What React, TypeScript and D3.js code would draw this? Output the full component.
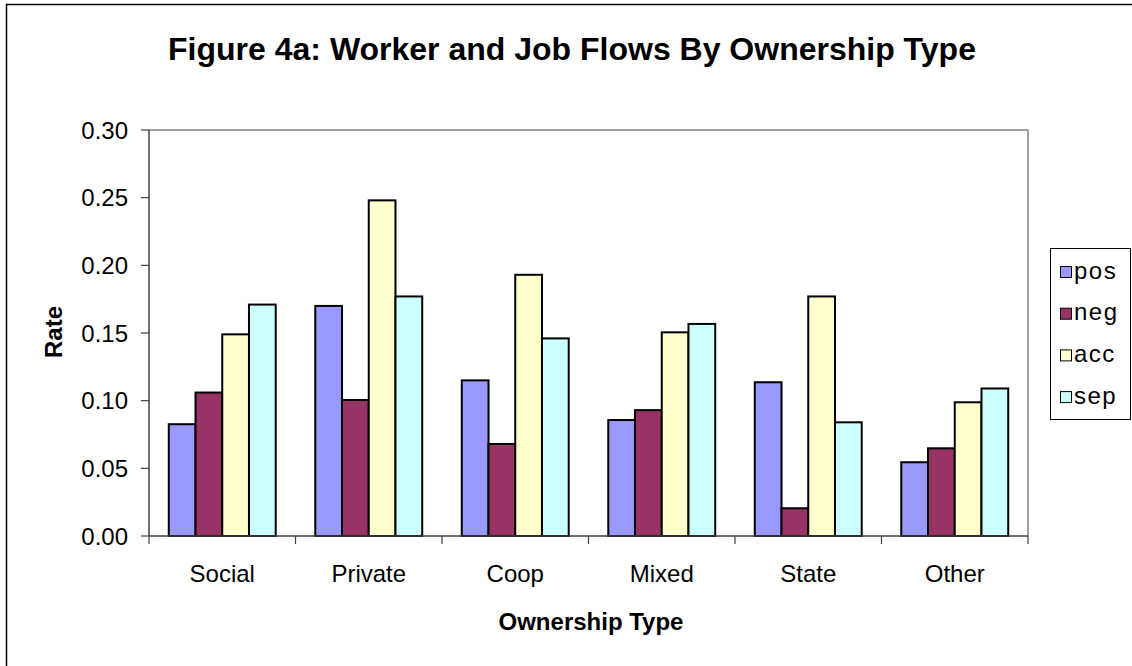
import React from "react";
import * as d3 from "d3";

const categories = ["Social", "Private", "Coop", "Mixed", "State", "Other"];
const seriesNames = ["pos", "neg", "acc", "sep"];
const posValues = [0.0826, 0.170, 0.115, 0.0857, 0.1136, 0.0545];
const negValues = [0.106, 0.1005, 0.068, 0.093, 0.0205, 0.0648];
const accValues = [0.149, 0.248, 0.193, 0.1505, 0.177, 0.0988];
const sepValues = [0.171, 0.177, 0.146, 0.1567, 0.084, 0.109];
const yTicks = [0, 0.05, 0.1, 0.15, 0.2, 0.25, 0.3];
const colors = ["#9999FF", "#993366", "#FFFFCC", "#CCFFFF"];

const W = 1132;
const H = 666;
const plot = { left: 149, right: 1028, top: 130, bottom: 536 };
const FONT = "'Liberation Sans', Arial, sans-serif";

export default function App() {
  const series = [posValues, negValues, accValues, sepValues];
  const x0 = d3.scaleBand().domain(categories).range([plot.left, plot.right]).paddingInner(0).paddingOuter(0);
  const innerPad = 0.27;
  const x1 = d3
    .scaleBand()
    .domain(seriesNames)
    .range([x0.bandwidth() * (innerPad / 2), x0.bandwidth() * (1 - innerPad / 2)]);
  const y = d3.scaleLinear().domain([0, 0.3]).range([plot.bottom, plot.top]);
  const fmt = d3.format(".2f");

  return (
    <svg width={W} height={H} style={{ position: "absolute", left: 0, top: 0, display: "block" }}>
      <rect x={0} y={0} width={W} height={H} fill="#fff" />
      <rect x={6.5} y={4.5} width={W + 10} height={H + 10} fill="none" stroke="#000" strokeWidth={1.5} />
      <text x={572} y={60} textAnchor="middle" fontFamily={FONT} fontWeight="bold" fontSize={32}>
        Figure 4a: Worker and Job Flows By Ownership Type
      </text>

      {/* plot border */}
      <line x1={plot.left} x2={plot.right} y1={plot.top} y2={plot.top} stroke="#808080" strokeWidth={1.5} />
      <line x1={plot.right} x2={plot.right} y1={plot.top} y2={plot.bottom} stroke="#808080" strokeWidth={1.5} />

      {/* bars */}
      {categories.map((c, ci) =>
        series.map((vals, si) => (
          <rect
            key={c + si}
            x={(x0(c) as number) + (x1(seriesNames[si]) as number)}
            y={y(vals[ci])}
            width={x1.bandwidth()}
            height={plot.bottom - y(vals[ci])}
            fill={colors[si]}
            stroke="#000"
            strokeWidth={2}
          />
        ))
      )}

      {/* y axis */}
      <line x1={plot.left} x2={plot.left} y1={plot.top} y2={plot.bottom} stroke="#404040" strokeWidth={1.5} />
      {yTicks.map((t) => (
        <g key={t}>
          <line x1={plot.left - 8} x2={plot.left} y1={y(t)} y2={y(t)} stroke="#404040" strokeWidth={1.2} />
          <text x={plot.left - 21} y={y(t) + 8.5} textAnchor="end" fontFamily={FONT} fontSize={24}>
            {fmt(t)}
          </text>
        </g>
      ))}

      {/* x axis */}
      <line x1={plot.left} x2={plot.right} y1={plot.bottom} y2={plot.bottom} stroke="#404040" strokeWidth={1.5} />
      {categories.map((c) => (
        <line
          key={"t" + c}
          x1={x0(c) as number}
          x2={x0(c) as number}
          y1={plot.bottom}
          y2={plot.bottom + 8}
          stroke="#404040"
          strokeWidth={1.2}
        />
      ))}
      <line x1={plot.right} x2={plot.right} y1={plot.bottom} y2={plot.bottom + 8} stroke="#404040" strokeWidth={1.2} />
      {categories.map((c) => (
        <text
          key={"l" + c}
          x={(x0(c) as number) + x0.bandwidth() / 2}
          y={582}
          textAnchor="middle"
          fontFamily={FONT}
          fontSize={24}
        >
          {c}
        </text>
      ))}

      <text x={591} y={630} textAnchor="middle" fontFamily={FONT} fontWeight="bold" fontSize={24}>
        Ownership Type
      </text>
      <text
        transform={`translate(62, 332) rotate(-90)`}
        textAnchor="middle"
        fontFamily={FONT}
        fontWeight="bold"
        fontSize={24}
      >
        Rate
      </text>

      {/* legend */}
      <rect x={1050.5} y={248.5} width={80} height={171} fill="#fff" stroke="#000" strokeWidth={1} />
      {seriesNames.map((s, i) => {
        const cy = 272.5 + i * 41.7;
        return (
          <g key={"lg" + s}>
            <rect x={1060.5} y={cy - 6} width={11} height={11} fill={colors[i]} stroke="#000" strokeWidth={1} />
            <text x={1074} y={cy + 6} fontFamily={FONT} fontSize={24} letterSpacing={1.5}>
              {s}
            </text>
          </g>
        );
      })}
    </svg>
  );
}
